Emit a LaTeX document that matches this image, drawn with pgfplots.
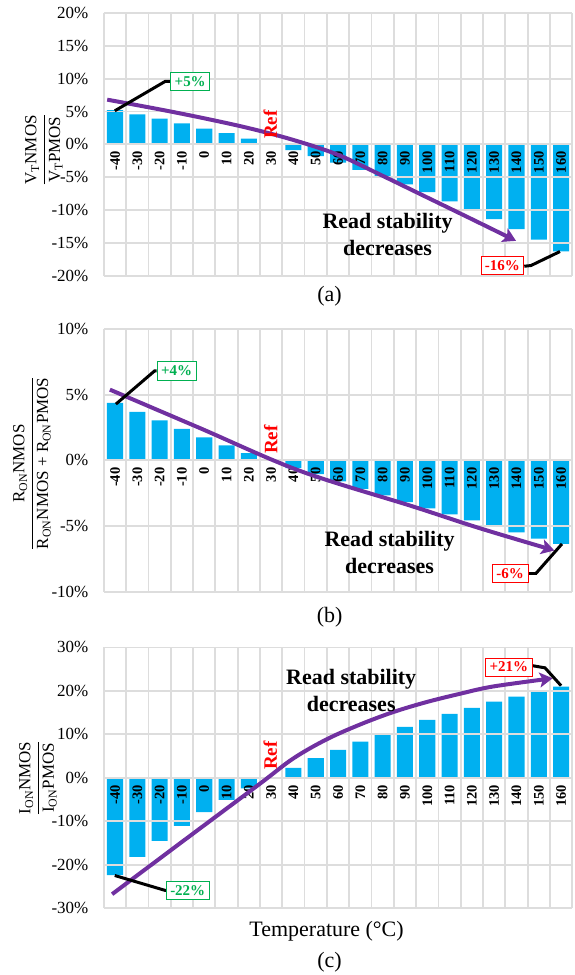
\documentclass[border=0pt]{standalone}
\usepackage{fontspec}
\setmainfont{Liberation Serif}
\usepackage{amsmath}
\usepackage{pgfplots}
\pgfplotsset{compat=1.18}
\usetikzlibrary{arrows.meta}

\definecolor{barblue}{HTML}{00B0F0}
\definecolor{trendpurple}{HTML}{7030A0}
\definecolor{tagreen}{HTML}{00B050}
\definecolor{gridgray}{HTML}{DDDDDD}

% tick labels above the bars, arrows and notes above the tick labels
\pgfplotsset{
  layers/barsfirst/.define layer set={
    axis background,axis grid,axis ticks,axis lines,pre main,
    axis tick labels,main,axis descriptions,axis foreground}{},
}

\pgfplotsset{
  tempaxis/.style={
    set layers=barsfirst,
    scale only axis, width=469pt,
    xmin=-45, xmax=165,
    axis x line*=middle, axis y line*=left,
    axis line style={gridgray, line width=1.8pt},
    xtick={-40,-30,...,160},
    xticklabels={-40,-30,-20,-10,0,10,20,30,40,50,60,70,80,90,100,110,120,130,140,150,160},
    minor xtick={-45,-35,...,165},
    xminorgrids, ymajorgrids,
    grid style={gridgray, line width=1.8pt},
    minor grid style={gridgray, line width=1.8pt},
    major tick length=0pt, minor tick length=0pt,
    xticklabel style={rotate=90, anchor=east, inner sep=0pt,
      font=\fontsize{14.5}{16}\selectfont\bfseries},
    xticklabel shift=7pt,
    yticklabel style={font=\fontsize{17}{20}\selectfont},
    yticklabel shift=12pt,
    hide obscured x ticks=false, hide obscured y ticks=false,
    clip=false,
  },
  bars/.style={ybar, bar width=7.2, fill=barblue, draw=none, on layer=pre main},
  trend/.style={trendpurple, line width=4pt, smooth, tension=0.55,
    -{Stealth[length=13pt, width=15pt, inset=3pt]}},
  leader/.style={black, line width=3pt, sharp plot},
}
\tikzset{
  tag/.style={draw=#1, text=#1, fill=white, line width=0.8pt, inner sep=4pt,
    font=\fontsize{15}{17}\selectfont\bfseries},
  reftext/.style={rotate=90, red, font=\fontsize{19}{22}\selectfont\bfseries},
  note/.style={align=center, font=\fontsize{22}{27}\selectfont\bfseries},
}
% numerator kept a little further from the fraction bar
\newcommand{\numer}[1]{\text{#1}\rule[-5pt]{0pt}{5pt}}

\begin{document}
\begin{tikzpicture}
\path (0pt,0pt) rectangle (575pt,-975pt);

% (a) threshold voltage ratio
\begin{axis}[tempaxis, at={(104pt,-276pt)}, anchor=south west, height=263pt,
  ymin=-20, ymax=20, ytick={-20,-15,...,20},
  yticklabels={-20\%,-15\%,-10\%,-5\%,0\%,5\%,10\%,15\%,20\%}]
\addplot[bars] coordinates {(-40,5.2) (-30,4.56) (-20,3.9) (-10,3.2) (0,2.4)
  (10,1.7) (20,0.86) (30,0) (40,-0.87) (50,-1.8) (60,-2.8) (70,-3.9) (80,-5.0)
  (90,-6.1) (100,-7.3) (110,-8.7) (120,-10.0) (130,-11.4) (140,-12.9)
  (150,-14.5) (160,-16.3)};
\addplot[trend] coordinates {(-43.5,6.8) (-20,5.32) (0,3.96) (20,2.46)
  (40,0.66) (60,-1.6) (80,-4.8) (100,-8.1) (120,-11.4) (139.8,-14.7)};
\addplot[leader] coordinates {(-40.1,5.1) (-17.4,9.6) (-15.2,9.6)};
\addplot[leader] coordinates {(143.5,-18.57) (146.5,-18.46) (159.5,-16.33)};
\node[tag=tagreen, anchor=west] at (axis cs:-15.2,9.6) {+5\%};
\node[tag=red, anchor=east] at (axis cs:143.5,-18.5) {-16\%};
\node[reftext] at (axis cs:29.6,3.0) {Ref};
\node[note] at (axis cs:82.2,-13.7) {Read stability\\decreases};
\end{axis}

% (b) on-resistance ratio
\begin{axis}[tempaxis, at={(104pt,-592.7pt)}, anchor=south west, height=263.4pt,
  ymin=-10, ymax=10, ytick={-10,-5,...,10},
  yticklabels={-10\%,-5\%,0\%,5\%,10\%}]
\addplot[bars] coordinates {(-40,4.37) (-30,3.68) (-20,3.05) (-10,2.39) (0,1.75)
  (10,1.14) (20,0.56) (30,0) (40,-0.58) (50,-1.04) (60,-1.6) (70,-2.16)
  (80,-2.66) (90,-3.17) (100,-3.65) (110,-4.11) (120,-4.57) (130,-5.05)
  (140,-5.48) (150,-5.94) (160,-6.35)};
\addplot[trend] coordinates {(-42.3,5.38) (-2,2.46) (42.8,-0.79) (93.5,-3.5)
  (123.4,-5.15) (157,-6.85)};
\addplot[leader] coordinates {(-39.6,4.28) (-22.2,6.81) (-21.3,6.81)};
\addplot[leader] coordinates {(145.3,-8.6) (148.7,-8.6) (160.4,-6.35)};
\node[tag=tagreen, anchor=west] at (axis cs:-21.3,6.8) {+4\%};
\node[tag=red, anchor=east] at (axis cs:145.3,-8.6) {-6\%};
\node[reftext] at (axis cs:29.8,1.57) {Ref};
\node[note] at (axis cs:83.1,-7.03) {Read stability\\decreases};
\end{axis}

% (c) on-current ratio
\begin{axis}[tempaxis, at={(104pt,-909.3pt)}, anchor=south west, height=261pt,
  ymin=-30, ymax=30, ytick={-30,-20,...,30},
  yticklabels={-30\%,-20\%,-10\%,0\%,10\%,20\%,30\%}]
\addplot[bars] coordinates {(-40,-22.4) (-30,-18.2) (-20,-14.5) (-10,-11.1)
  (0,-7.9) (10,-5.1) (20,-2.44) (30,0) (40,2.3) (50,4.5) (60,6.4) (70,8.3)
  (80,10.1) (90,11.7) (100,13.3) (110,14.7) (120,16.1) (130,17.5) (140,18.7)
  (150,19.9) (160,21.0)};
\addplot[trend] coordinates {(-41.3,-26.8) (-8,-14) (24.9,-1.4) (39.8,4.4)
  (54.7,8.8) (69.6,12.2) (84.6,15.1) (99.5,17.4) (114.4,19.3) (129.4,21.0)
  (156.2,22.9)};
\addplot[leader] coordinates {(-40.1,-22.5) (-17.7,-25.9) (-17.2,-25.9)};
\addplot[leader] coordinates {(147.2,25.8) (152.8,25.3) (160.0,21.2)};
\node[tag=tagreen, anchor=west] at (axis cs:-17.2,-25.9) {-22\%};
\node[tag=red, anchor=east] at (axis cs:147.2,25.5) {+21\%};
\node[reftext] at (axis cs:29.6,5.13) {Ref};
\node[note] at (axis cs:65.9,20.1) {Read stability\\decreases};
\end{axis}

% y labels and captions
\begin{scope}[every node/.style={font=\fontsize{17}{20}\selectfont}]
\node[rotate=90] at (44pt,-150pt)
  {$\displaystyle\frac{\numer{V\textsubscript{T}NMOS}}{\text{V\textsubscript{T}PMOS}}$};
\node[rotate=90] at (32pt,-464pt)
  {$\displaystyle\frac{\numer{R\textsubscript{ON}NMOS}}{\text{R\textsubscript{ON}NMOS + R\textsubscript{ON}PMOS}}$};
\node[rotate=90] at (38pt,-779pt)
  {$\displaystyle\frac{\numer{I\textsubscript{ON}NMOS}}{\text{I\textsubscript{ON}PMOS}}$};
\end{scope}
\begin{scope}[every node/.style={font=\fontsize{22}{26}\selectfont}]
\node at (330pt,-297pt) {(a)};
\node at (330pt,-618pt) {(b)};
\node at (330pt,-963pt) {(c)};
\node at (327pt,-932pt) {Temperature (°C)};
\end{scope}
\end{tikzpicture}
\end{document}
